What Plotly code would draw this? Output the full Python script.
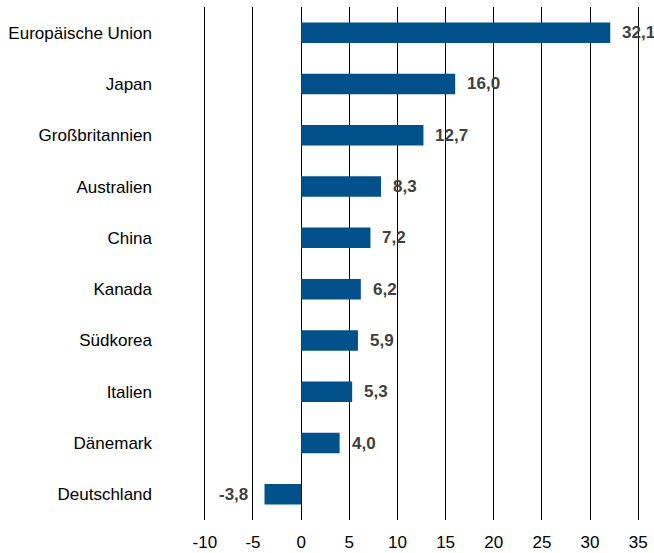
import plotly.graph_objects as go

categories = ["Europäische Union", "Japan", "Großbritannien", "Australien", "China",
              "Kanada", "Südkorea", "Italien", "Dänemark", "Deutschland"]
values = [32.1, 16.0, 12.7, 8.3, 7.2, 6.2, 5.9, 5.3, 4.0, -3.8]
labels = ["32,1", "16,0", "12,7", "8,3", "7,2", "6,2", "5,9", "5,3", "4,0", "-3,8"]
tick_vals = [-10, -5, 0, 5, 10, 15, 20, 25, 30, 35]
tick_text = ["-10", "-5", "0", "5", "10", "15", "20", "25", "30", "35"]

FONT = "Liberation Sans, Arial, sans-serif"

fig = go.Figure(go.Bar(
    x=values, y=categories, orientation="h",
    marker=dict(color="#005189", line=dict(width=0)),
    hoverinfo="skip",
))

annotations = []
for c, v, t in zip(categories, values, labels):
    annotations.append(dict(
        x=v, y=c, xref="x", yref="y", text="<b>%s</b>" % t, showarrow=False,
        xanchor="left" if v >= 0 else "right", xshift=10 if v >= 0 else -15,
        font=dict(family=FONT, size=17, color="#404040"),
    ))

fig.update_layout(
    width=654, height=553,
    margin=dict(l=200, r=11, t=7, b=33, autoexpand=False),
    paper_bgcolor="white", plot_bgcolor="white",
    bargap=0.6, showlegend=False,
    font=dict(family=FONT, size=17, color="black"),
    annotations=annotations,
    xaxis=dict(range=[-10.5, 35.5], tickvals=tick_vals, ticktext=tick_text,
               showgrid=True, gridcolor="black", gridwidth=1.3,
               zeroline=True, zerolinecolor="black", zerolinewidth=1.3,
               showline=False, ticks="", ticklabelstandoff=10, automargin=False,
               tickfont=dict(family=FONT, size=17, color="black")),
    yaxis=dict(autorange="reversed", showgrid=False, zeroline=False, showline=False,
               ticks="", ticklabelstandoff=47, automargin=False,
               tickfont=dict(family=FONT, size=17, color="black")),
)

fig.write_html(
    "out.html",
    config={"displayModeBar": False},
    post_script="document.body.style.margin='0';document.body.style.padding='0';"
                "document.body.style.overflow='hidden';",
)
